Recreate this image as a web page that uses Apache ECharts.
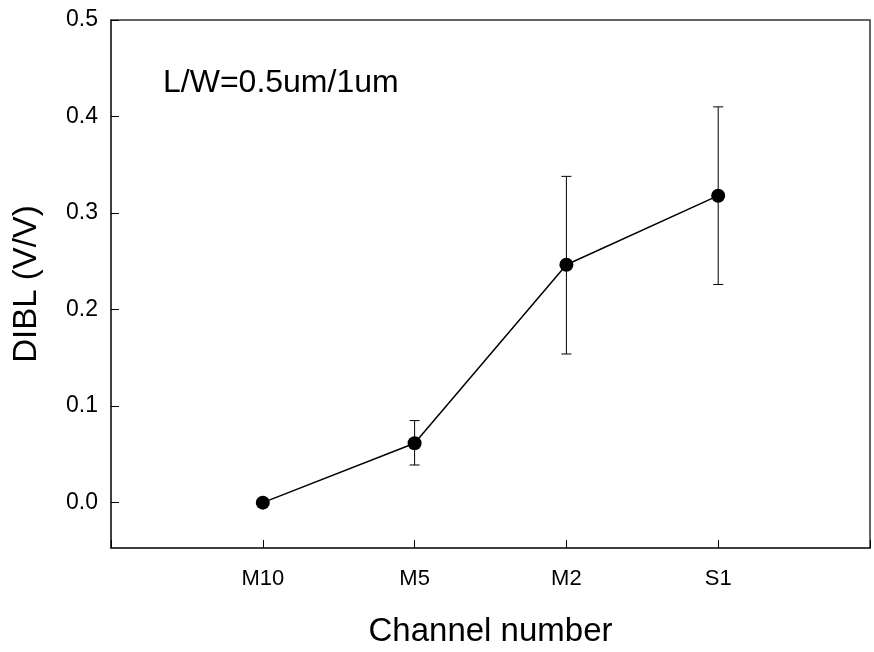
<!DOCTYPE html>
<html><head><meta charset="utf-8">
<script src="https://cdn.jsdelivr.net/npm/echarts@6/dist/echarts.min.js"></script>
<style>html,body{margin:0;padding:0;background:#fff}#c{width:874px;height:652px}</style>
</head><body><div id="c"></div>
<script>
const categories = ['M10', 'M5', 'M2', 'S1'];
const dibl = [0.0, 0.0615, 0.2465, 0.318];
const errLow = [0.0, 0.039, 0.154, 0.226];
const errHigh = [0.0, 0.085, 0.338, 0.410];
const yTicks = [0.0, 0.1, 0.2, 0.3, 0.4, 0.5];

const font = 'Liberation Sans, Arial, sans-serif';
const pts = dibl.map((v, i) => [i + 1, v]);
const errData = categories.map((c, i) => [i + 1, errLow[i], errHigh[i]]).filter(d => d[2] > d[1]);

const chart = echarts.init(document.getElementById('c'));
chart.setOption({
  animation: false,
  grid: { left: 111, top: 20, right: 4, bottom: 104, outerBoundsMode: 'none', containLabel: false,
    show: true, borderColor: '#333', borderWidth: 1.5, backgroundColor: 'transparent' },
  xAxis: {
    type: 'value', min: 0, max: 5, interval: 1,
    name: 'Channel number', nameLocation: 'middle', nameGap: 67, nameMoveOverlap: false,
    nameTextStyle: { fontFamily: font, fontSize: 33, color: '#000' },
    axisLine: { show: true, onZero: false, lineStyle: { color: '#333', width: 1.5 } },
    axisTick: { show: true, inside: true, length: 8, lineStyle: { color: '#000' } },
    splitLine: { show: false },
    axisLabel: { fontFamily: font, fontSize: 22, color: '#000', margin: 20,
      formatter: v => (v >= 1 && v <= categories.length) ? categories[v - 1] : '' }
  },
  yAxis: {
    type: 'value', min: -0.047, max: 0.5, interval: 0.1,
    name: 'DIBL (V/V)', nameLocation: 'middle', nameGap: 68, nameRotate: 90, nameMoveOverlap: false,
    nameTextStyle: { fontFamily: font, fontSize: 33, color: '#000' },
    axisLine: { show: true, onZero: false, lineStyle: { color: '#333', width: 1.5 } },
    axisTick: { show: true, inside: true, length: 8, lineStyle: { color: '#000' },
      customValues: yTicks },
    splitLine: { show: false },
    axisLabel: { fontFamily: font, fontSize: 23, color: '#000', margin: 13,
      customValues: yTicks, formatter: v => v.toFixed(1) }
  },
  graphic: [{ type: 'text', x: 163, y: 83,
    style: { text: 'L/W=0.5um/1um', font: '32px ' + font, fill: '#000', verticalAlign: 'middle' } }],
  series: [
    {
      type: 'custom',
      data: errData,
      renderItem: (params, api) => {
        const x = api.value(0);
        const lo = api.coord([x, api.value(1)]);
        const hi = api.coord([x, api.value(2)]);
        const w = 5;
        const st = { stroke: '#000', lineWidth: 1 };
        return { type: 'group', children: [
          { type: 'line', shape: { x1: lo[0], y1: lo[1], x2: hi[0], y2: hi[1] }, style: st },
          { type: 'line', shape: { x1: hi[0] - w, y1: hi[1], x2: hi[0] + w, y2: hi[1] }, style: st },
          { type: 'line', shape: { x1: lo[0] - w, y1: lo[1], x2: lo[0] + w, y2: lo[1] }, style: st }
        ]};
      },
      z: 1
    },
    {
      type: 'line', data: pts, symbol: 'circle', symbolSize: 14,
      lineStyle: { color: '#000', width: 1.5 }, itemStyle: { color: '#000' }, z: 2
    }
  ]
});
</script></body></html>
